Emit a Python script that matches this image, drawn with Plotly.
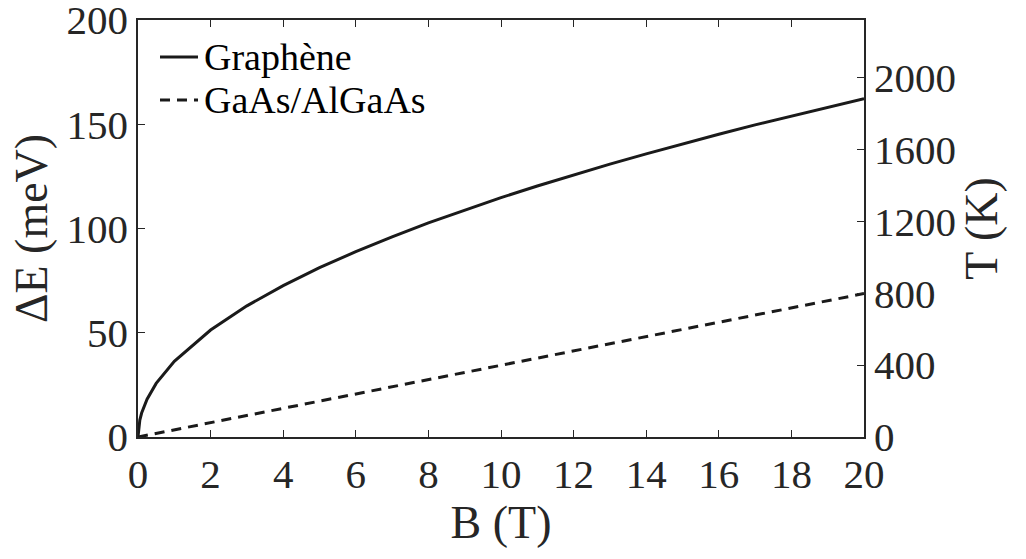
import plotly.graph_objects as go

# Magnetic field (T)
B_graphene = [0, 0.05, 0.1, 0.25, 0.5, 1, 2, 3, 4, 5, 6, 7, 8, 9, 10,
              11, 12, 13, 14, 15, 16, 17, 18, 19, 20]
# Energy gap graphene (meV)
dE_graphene = [0, 8.1, 11.5, 18.1, 25.7, 36.3, 51.3, 62.9, 72.6, 81.2, 88.9,
               96.0, 102.7, 108.9, 114.8, 120.4, 125.7, 130.9, 135.8, 140.6,
               145.2, 149.7, 154.0, 158.2, 162.3]

B_gaas = [0, 5, 10, 15, 20]
dE_gaas = [0, 17.2, 34.4, 51.6, 68.8]

series_names = ["Graphène", "GaAs/AlGaAs"]
x_ticks = list(range(0, 21, 2))
y_ticks = [0, 50, 100, 150, 200]
t_ticks = [0, 400, 800, 1200, 1600, 2000]
K_PER_MEV = 11.6045
Y_MAX = 200.01

FONT = "Liberation Serif, Times New Roman, serif"
TXT = "#262626"
LINE = "#1a1a1a"
DASH = "10px,7px"

W, H = 1026, 559
L, R, T, Bm = 138, 162, 20, 122
pw, ph = W - L - R, H - T - Bm


def px(x):
    return (x - L) / pw


def py(y):
    return (H - Bm - y) / ph


fig = go.Figure()
fig.add_trace(go.Scatter(x=B_graphene, y=dE_graphene, mode="lines", name=series_names[0],
                         line=dict(color=LINE, width=3)))
fig.add_trace(go.Scatter(x=B_gaas, y=dE_gaas, mode="lines", name=series_names[1],
                         line=dict(color=LINE, width=3, dash=DASH)))
# invisible trace to activate the right axis
fig.add_trace(go.Scatter(x=[0], y=[0], yaxis="y2", mode="lines", showlegend=False,
                         hoverinfo="skip", line=dict(width=0)))

# manual legend (compact, like the original)
for i, (name, dash) in enumerate(zip(series_names, ["solid", DASH])):
    yy = 57 + 43 * i
    fig.add_shape(type="line", xref="paper", yref="paper",
                  x0=px(160), x1=px(198), y0=py(yy), y1=py(yy),
                  line=dict(color=LINE, width=3, dash=dash))
    fig.add_annotation(xref="paper", yref="paper", x=px(202), y=py(yy),
                       xanchor="left", yanchor="middle", text=name, showarrow=False,
                       font=dict(family=FONT, size=38, color="black"))

fig.update_layout(
    width=W, height=H,
    margin=dict(l=L, r=R, t=T, b=Bm),
    plot_bgcolor="white", paper_bgcolor="white",
    font=dict(family=FONT, color=TXT, size=41),
    showlegend=False,
    xaxis=dict(range=[0, 20], tickvals=x_ticks, ticks="inside", ticklen=7,
               showline=True, linecolor=TXT, linewidth=1.5, mirror="ticks",
               showgrid=False, zeroline=False, tickcolor=TXT, automargin=False,
               ticklabeloverflow="allow",
               title=dict(text="B (T)", font=dict(family=FONT, size=46), standoff=4),
               tickfont=dict(family=FONT, size=41)),
    yaxis=dict(range=[0, Y_MAX], tickvals=y_ticks, ticks="inside", ticklen=7,
               showline=True, linecolor=TXT, linewidth=1.5, mirror=False,
               showgrid=False, zeroline=False, tickcolor=TXT, automargin=False,
               ticklabeloverflow="allow",
               title=dict(text="ΔE (meV)", font=dict(family=FONT, size=46), standoff=4),
               tickfont=dict(family=FONT, size=41)),
    yaxis2=dict(range=[0, Y_MAX * K_PER_MEV], tickvals=t_ticks, ticks="inside", ticklen=7,
                overlaying="y", side="right", showline=True, linecolor=TXT, linewidth=1.5,
                showgrid=False, zeroline=False, tickcolor=TXT, automargin=False,
                ticklabeloverflow="allow",
                title=dict(text="T (K)", font=dict(family=FONT, size=46), standoff=9),
                tickfont=dict(family=FONT, size=41)),
)

# remove the browser's default 8px body margin so the figure sits at (0, 0)
fig.write_html("out.html", config={"displayModeBar": False},
               post_script="document.body.style.margin='0';")
